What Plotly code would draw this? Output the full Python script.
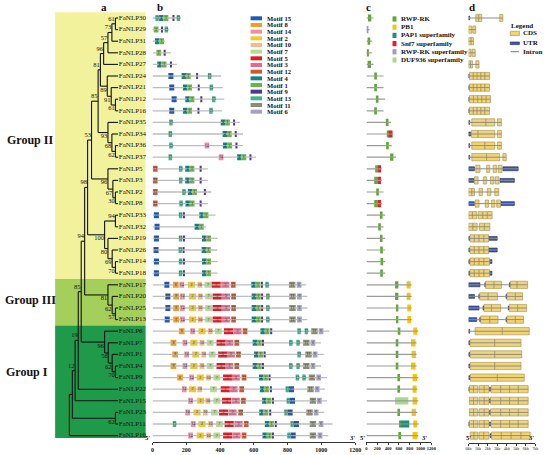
import plotly.graph_objects as go

W, H = 550, 455
ROW0, PITCH = 18, 11.6      # pixel y of first row, row pitch
TIP_X = 117                 # tree tips (pixel units of the tree axis)
SERIF = "Liberation Serif"

# ---------------- data ----------------
genes = ["FaNLP30", "FaNLP29", "FaNLP31", "FaNLP28", "FaNLP27", "FaNLP24", "FaNLP21",
         "FaNLP12", "FaNLP16", "FaNLP35", "FaNLP34", "FaNLP36", "FaNLP37", "FaNLP5",
         "FaNLP3", "FaNLP2", "FaNLP8", "FaNLP33", "FaNLP32", "FaNLP19", "FaNLP26",
         "FaNLP14", "FaNLP18", "FaNLP17", "FaNLP20", "FaNLP25", "FaNLP13", "FaNLP6",
         "FaNLP7", "FaNLP1", "FaNLP4", "FaNLP9", "FaNLP22", "FaNLP15", "FaNLP23",
         "FaNLP11", "FaNLP10"]

group_names = ["Group II", "Group III", "Group I"]
group_first = ["FaNLP30", "FaNLP17", "FaNLP6"]
group_last = ["FaNLP18", "FaNLP13", "FaNLP10"]
group_colors = ["#F2F29C", "#A5CF5B", "#1F9A4B"]

# internal nodes: (id, upper child, lower child, depth, bootstrap)
tree_nodes = [
    ("a1", "FaNLP30", "FaNLP29", 114.3, 61), ("a2", "a1", "FaNLP31", 110.7, 73),
    ("a3", "a2", "FaNLP28", 106.7, 57), ("a4", "a3", "FaNLP27", 102.3, 96),
    ("b1", "FaNLP12", "FaNLP16", 114.3, 61), ("b2", "FaNLP21", "b1", 110.0, 91),
    ("b3", "FaNLP24", "b2", 106.0, 89), ("c1", "a4", "b3", 99.0, 81),
    ("d1", "FaNLP36", "FaNLP37", 114.3, 62), ("d2", "FaNLP34", "d1", 110.7, 68),
    ("d3", "FaNLP35", "d2", 106.7, 93), ("c2", "c1", "d3", 96.7, 85),
    ("e1", "FaNLP2", "FaNLP8", 114.3, 30), ("e2", "FaNLP3", "e1", 111.7, 67),
    ("e3", "FaNLP5", "e2", 106.7, 96), ("c3", "c2", "e3", 90.0, 53),
    ("f1", "FaNLP33", "FaNLP32", 114.3, 94), ("f2", "FaNLP14", "FaNLP18", 114.3, 70),
    ("f3", "FaNLP26", "f2", 111.0, 69), ("f4", "FaNLP19", "f3", 106.7, 80),
    ("f5", "f1", "f4", 103.3, 100), ("c4", "c3", "f5", 86.0, 98),
    ("g1", "FaNLP25", "FaNLP13", 114.3, 57), ("g2", "FaNLP20", "g1", 111.0, 62),
    ("g3", "FaNLP17", "g2", 106.7, 81), ("c5", "c4", "g3", 83.0, 94),
    ("h1", "FaNLP4", "FaNLP9", 114.3, 70), ("h2", "FaNLP1", "h1", 111.0, 62),
    ("h3", "FaNLP7", "h2", 107.0, 56), ("h4", "FaNLP6", "h3", 103.3, 96),
    ("c6", "c5", "h4", 79.5, 85), ("c7", "c6", "FaNLP22", 76.5, 19),
    ("c8", "c7", "FaNLP15", 73.3, 12), ("i1", "FaNLP23", "FaNLP11", 114.3, 62),
    ("c9", "c8", "i1", 70.5, None), ("root", "c9", "FaNLP10", 67.5, None),
]

# b: protein length (aa) and motif hits (motif, centre aa)
protein_len = [167, 95, 75, 109, 144, 406, 416, 425, 412, 518, 536, 536, 613, 328,
               328, 348, 328, 373, 318, 386, 383, 386, 386, 910, 917, 917, 917, 1047,
               998, 1014, 998, 1033, 1021, 1033, 1017, 1066, 1041]

motif_ids = [15, 8, 14, 2, 10, 7, 5, 3, 12, 4, 1, 9, 13, 11, 6]
motif_colors = ["#1E5BB8", "#F39C1E", "#EF8FA6", "#F3C81F", "#F6B98E", "#B6DD8F",
                "#E31A22", "#E3688A", "#CF5A2E", "#13838A", "#6BB43F", "#4A3A8C",
                "#3DB68C", "#8C8C72", "#A3A2C4"]
motif_width = [30, 34, 28, 42, 28, 40, 54, 48, 28, 26, 28, 12, 20, 38, 28]

motifs_group2 = [
    [(13, 27), (4, 52), (1, 80), (9, 124), (13, 153)],
    [(1, 21), (9, 56), (13, 82)],
    [(4, 27), (1, 54)],
    [(1, 37), (9, 72)],
    [(4, 41), (1, 69), (9, 109)],
    [(15, 109), (4, 185), (1, 212), (9, 264), (13, 338)],
    [(15, 114), (4, 193), (1, 220), (9, 274), (13, 348)],
    [(15, 128), (4, 207), (1, 234), (9, 289), (13, 363)],
    [(15, 114), (4, 193), (1, 220), (9, 272), (13, 346)],
    [(13, 109), (4, 417), (1, 444), (9, 483)],
    [(13, 105), (4, 428), (1, 455), (9, 493)],
    [(13, 109), (14, 322), (4, 430), (1, 457), (9, 497)],
    [(13, 105), (14, 406), (4, 514), (1, 541), (9, 580)],
    [(12, 16), (13, 167), (4, 207), (1, 234), (9, 285)],
    [(12, 16), (13, 167), (4, 207), (1, 234), (9, 285)],
    [(12, 16), (13, 186), (4, 222), (1, 249), (9, 310)],
    [(12, 16), (13, 169), (4, 208), (1, 235), (9, 285)],
    [(15, 23), (13, 166), (9, 186), (4, 290), (1, 317)],
    [(15, 27), (4, 262), (1, 289)],
    [(15, 23), (13, 166), (9, 186), (4, 306), (1, 333)],
    [(15, 21), (13, 164), (9, 184), (4, 304), (1, 331)],
    [(15, 23), (13, 166), (9, 186), (4, 306), (1, 333)],
    [(15, 23), (13, 166), (9, 186), (4, 306), (1, 333)],
]
motifs_group3 = [
    [(15, 85), (8, 138), (14, 173), (2, 231), (10, 280), (7, 328), (5, 377), (3, 431),
     (12, 478), (4, 598), (1, 625), (9, 648), (13, 678), (11, 827), (6, 868)],
    [(15, 91), (8, 140), (14, 177), (2, 237), (10, 283), (7, 332), (5, 383), (3, 435),
     (12, 480), (4, 600), (1, 627), (9, 649), (13, 683), (11, 829), (6, 870)],
    [(15, 91), (8, 140), (14, 177), (2, 237), (10, 283), (7, 332), (5, 383), (3, 435),
     (12, 480), (4, 600), (1, 627), (9, 649), (13, 683), (11, 829), (6, 870)],
    [(15, 87), (8, 140), (14, 177), (2, 237), (10, 283), (7, 332), (5, 383), (3, 435),
     (12, 480), (4, 600), (1, 627), (9, 649), (13, 683), (11, 829), (6, 870)],
]
motifs_group1 = [
    [(8, 173), (14, 237), (2, 293), (10, 342), (7, 390), (5, 450), (3, 503), (12, 548),
     (4, 652), (1, 679), (9, 703), (13, 868), (13, 911), (11, 959), (6, 998)],
    [(8, 124), (14, 192), (2, 245), (10, 293), (7, 342), (5, 406), (3, 454), (12, 499),
     (4, 606), (1, 633), (9, 654), (13, 819), (13, 862), (11, 911), (6, 950)],
    [(8, 134), (14, 202), (2, 256), (10, 303), (7, 353), (5, 416), (3, 464), (12, 509),
     (4, 614), (1, 641), (9, 664), (13, 868), (11, 924), (6, 963)],
    [(8, 124), (14, 192), (2, 245), (10, 293), (7, 342), (5, 406), (3, 454), (12, 499),
     (4, 606), (1, 633), (9, 654), (13, 819), (13, 862), (11, 911), (6, 950)],
    [(8, 163), (14, 231), (2, 283), (10, 332), (7, 381), (5, 445), (3, 493), (12, 542),
     (4, 643), (1, 670), (9, 693), (13, 858), (13, 897), (11, 944), (6, 984)],
    [(14, 188), (2, 237), (10, 280), (7, 361), (5, 431), (3, 480), (12, 528), (4, 649),
     (1, 676), (9, 701), (13, 798), (15, 823), (11, 936), (6, 975)],
    [(14, 225), (2, 285), (10, 328), (7, 381), (5, 439), (3, 493), (12, 538), (4, 662),
     (1, 689), (9, 713), (13, 804), (15, 829), (11, 950), (6, 988)],
    [(14, 208), (2, 264), (10, 313), (7, 367), (5, 421), (3, 474), (12, 522), (4, 645),
     (1, 672), (9, 697), (13, 790), (15, 815), (11, 930), (6, 969)],
    [(13, 130), (14, 241), (2, 293), (10, 344), (7, 396), (5, 454), (3, 509), (12, 555),
     (4, 678), (1, 705), (9, 730), (13, 827), (15, 852), (11, 950), (6, 998)],
    [(14, 225), (2, 283), (10, 332), (7, 381), (5, 445), (3, 497), (12, 542), (4, 664),
     (1, 691), (9, 713), (13, 808), (15, 833), (11, 950), (6, 992)],
]

# c: conserved domains (name, start aa, end aa)
domain_names = ["RWP-RK", "PB1", "PAP1 superfamily", "Snf7 superfamily",
                "RWP-RK superfamily", "DUF936 superfamily"]
domain_colors = ["#5BAA2F", "#F7C600", "#1A8F7A", "#E61E25", "#9C9CC9", "#A9D98C"]
domain_len = [131, 58, 101, 101, 131, 315, 315, 346, 315, 456, 480, 468, 547, 284,
              284, 315, 284, 346, 315, 346, 346, 346, 346, 835, 835, 835, 835, 957,
              927, 927, 927, 957, 939, 957, 939, 969, 957]
domain_hits = [
    [("RWP-RK", 28, 89)], [("RWP-RK superfamily", 2, 26)], [("RWP-RK", 21, 70)],
    [("RWP-RK", 5, 45)], [("RWP-RK", 21, 83)], [("RWP-RK", 144, 193)],
    [("RWP-RK", 144, 193)], [("RWP-RK", 174, 223)], [("RWP-RK", 144, 193)],
    [("RWP-RK", 358, 407)], [("RWP-RK", 376, 425), ("Snf7 superfamily", 410, 482)],
    [("RWP-RK", 364, 413)], [("RWP-RK", 437, 498)],
    [("RWP-RK", 162, 211), ("Snf7 superfamily", 211, 270)],
    [("RWP-RK", 144, 205), ("Snf7 superfamily", 205, 268)], [("RWP-RK", 180, 229)],
    [("RWP-RK", 144, 205), ("Snf7 superfamily", 205, 268)], [("RWP-RK", 248, 297)],
    [("RWP-RK", 217, 266)], [("RWP-RK", 248, 297)], [("RWP-RK", 254, 303)],
    [("RWP-RK", 260, 309)], [("RWP-RK", 254, 303)],
    [("RWP-RK", 529, 590), ("PB1", 743, 817)], [("RWP-RK", 529, 590), ("PB1", 743, 817)],
    [("RWP-RK", 547, 590), ("PB1", 755, 823)], [("RWP-RK", 547, 590), ("PB1", 755, 823)],
    [("RWP-RK", 578, 627), ("PB1", 865, 939)], [("RWP-RK", 541, 590), ("PB1", 823, 908)],
    [("RWP-RK", 541, 590), ("PB1", 835, 914)], [("RWP-RK", 541, 590), ("PB1", 823, 908)],
    [("RWP-RK", 572, 621), ("PB1", 853, 933)], [("RWP-RK", 572, 621), ("PB1", 853, 927)],
    [("DUF936 superfamily", 529, 774), ("PB1", 853, 939)],
    [("RWP-RK", 572, 621), ("PB1", 835, 914)],
    [("RWP-RK", 602, 640), ("PAP1 superfamily", 633, 792), ("PB1", 865, 939)],
    [("RWP-RK", 590, 639), ("PB1", 853, 945)],
]

# d: gene structure, (kind, start kb, end kb); C = CDS, U = UTR
gene_parts = [
    [("U", 0, 0.1), ("C", 0.76, 1.07), ("C", 1.07, 1.38), ("C", 3.27, 3.6)],
    [("C", 0, 0.33), ("C", 0.45, 0.76)],
    [("C", 0, 0.27), ("C", 0.27, 0.52)],
    [("C", 0, 0.27), ("C", 0.38, 0.7)],
    [("C", 0, 0.2), ("C", 0.2, 0.41), ("C", 0.76, 1.1)],
    [("U", 0, 0.08), ("C", 0.1, 0.5), ("C", 0.5, 0.9), ("C", 0.9, 1.3), ("C", 1.3, 1.72), ("C", 1.72, 2.2)],
    [("U", 0, 0.08), ("C", 0.1, 0.5), ("C", 0.5, 0.9), ("C", 0.9, 1.3), ("C", 1.3, 1.72), ("C", 1.72, 2.2)],
    [("U", 0, 0.08), ("C", 0.1, 0.52), ("C", 0.52, 0.95), ("C", 0.95, 1.4), ("C", 1.4, 1.85), ("C", 1.85, 2.3)],
    [("U", 0, 0.08), ("C", 0.1, 0.5), ("C", 0.5, 0.9), ("C", 0.9, 1.3), ("C", 1.3, 1.72), ("C", 1.72, 2.2)],
    [("U", 0, 0.12), ("C", 0.34, 1.82), ("C", 1.82, 2.75), ("C", 3.03, 3.44)],
    [("U", 0, 0.22), ("C", 0.3, 1.0), ("C", 1.0, 2.75), ("C", 3.03, 3.44)],
    [("U", 0, 0.12), ("C", 0.34, 1.72), ("C", 1.72, 2.75), ("C", 3.03, 3.44)],
    [("U", 0, 0.12), ("C", 0.34, 1.89), ("C", 1.89, 3.26), ("C", 3.6, 3.95)],
    [("U", 0, 0.62), ("C", 0.76, 1.2), ("C", 1.9, 2.23), ("C", 2.58, 2.92), ("C", 3.1, 3.5), ("U", 3.6, 5.2)],
    [("U", 0, 0.55), ("C", 0.62, 1.0), ("C", 1.55, 1.9), ("C", 2.3, 2.65), ("C", 2.8, 3.2), ("U", 3.3, 4.8)],
    [("C", 0, 0.35), ("C", 0.35, 0.62), ("C", 1.1, 1.45), ("C", 1.96, 2.34), ("C", 2.75, 3.17)],
    [("U", 0, 0.6), ("C", 0.7, 1.1), ("C", 1.75, 2.1), ("C", 2.4, 2.75), ("C", 2.95, 3.35), ("U", 3.4, 4.8)],
    [("C", 0, 0.4), ("C", 0.42, 0.85), ("C", 1.0, 1.45), ("C", 1.5, 1.95), ("C", 2.0, 2.47)],
    [("C", 0, 0.45), ("C", 0.48, 0.9), ("C", 1.15, 1.65), ("C", 1.68, 2.23)],
    [("U", 0, 0.12), ("C", 0.15, 0.6), ("C", 0.62, 1.1), ("C", 1.12, 1.6), ("C", 1.62, 2.1), ("U", 2.1, 3.0)],
    [("U", 0, 0.12), ("C", 0.15, 0.6), ("C", 0.62, 1.1), ("C", 1.12, 1.6), ("C", 1.62, 2.1), ("U", 2.1, 3.0)],
    [("U", 0, 0.12), ("C", 0.15, 0.6), ("C", 0.62, 1.1), ("C", 1.12, 1.6), ("C", 1.62, 2.2), ("U", 2.2, 2.45)],
    [("U", 0, 0.12), ("C", 0.15, 0.6), ("C", 0.62, 1.1), ("C", 1.12, 1.6), ("C", 1.62, 2.2), ("U", 2.2, 2.45)],
    [("U", 0, 1.2), ("U", 1.7, 1.79), ("C", 1.79, 2.68), ("C", 2.68, 3.44), ("U", 4.28, 4.38), ("C", 4.38, 5.09), ("C", 5.09, 6.19)],
    [("U", 0, 0.62), ("U", 1.07, 1.17), ("C", 1.17, 2.06), ("C", 2.06, 3.02), ("U", 3.92, 4.02), ("C", 4.02, 4.91), ("C", 4.91, 5.67)],
    [("U", 0, 1.1), ("U", 1.52, 1.62), ("C", 1.62, 2.4), ("C", 2.4, 3.37), ("U", 4.16, 4.26), ("C", 4.26, 5.15), ("C", 5.15, 6.08)],
    [("U", 0, 0.86), ("U", 1.17, 1.27), ("C", 1.27, 2.23), ("C", 2.23, 3.09), ("U", 3.92, 4.02), ("C", 4.02, 4.91), ("C", 4.91, 5.77)],
    [("U", 0, 0.12), ("C", 0.69, 3.54), ("C", 3.54, 6.36)],
    [("U", 0, 0.14), ("C", 0.17, 2.75), ("C", 2.75, 5.5)],
    [("U", 0, 0.14), ("C", 0.17, 2.75), ("C", 2.75, 5.57)],
    [("U", 0, 0.14), ("C", 0.17, 2.75), ("C", 2.75, 5.5)],
    [("U", 0, 0.14), ("C", 0.2, 3.02), ("C", 3.02, 5.84)],
    [("U", 0, 0.1), ("C", 0.1, 0.52), ("C", 0.52, 0.96), ("C", 1.1, 1.65), ("C", 1.65, 2.13), ("U", 2.2, 2.3),
     ("C", 2.35, 3.37), ("C", 3.37, 4.3), ("C", 4.3, 5.22), ("C", 5.22, 6.25)],
    [("C", 0.07, 0.52), ("C", 0.52, 0.96), ("C", 1.1, 1.65), ("C", 1.65, 2.13), ("U", 2.2, 2.3),
     ("C", 2.3, 3.37), ("C", 3.37, 4.3), ("C", 4.3, 5.22), ("C", 5.22, 6.25)],
    [("C", 0.07, 0.52), ("C", 0.52, 0.96), ("C", 1.1, 1.65), ("C", 1.65, 2.13), ("U", 2.2, 2.3),
     ("C", 2.3, 3.37), ("C", 3.37, 4.3), ("C", 4.3, 5.22), ("C", 5.22, 6.25)],
    [("U", 0, 0.1), ("C", 0.1, 0.52), ("C", 0.52, 0.96), ("C", 1.1, 1.65), ("C", 1.65, 2.13), ("U", 2.2, 2.3),
     ("C", 2.35, 3.37), ("C", 3.37, 4.3), ("C", 4.3, 5.22), ("C", 5.22, 6.25)],
    [("C", 0.17, 0.58), ("C", 0.58, 0.96), ("C", 1.1, 1.6), ("C", 1.6, 2.13), ("U", 2.27, 2.37),
     ("C", 2.4, 3.44), ("C", 3.44, 4.47), ("C", 4.47, 5.5), ("C", 5.5, 6.46)],
]

aa_ticks = [0, 200, 400, 600, 800, 1000, 1200]
kb_ticks = [0, 1, 2, 3, 4, 5, 6, 7]
kb_labels = ["0kb", "1kb", "2kb", "3kb", "4kb", "5kb", "6kb", "7kb"]


# ---------------- helpers ----------------
def px(x):
    return x / W


def py(y):
    return 1 - y / H


row = {g: i for i, g in enumerate(genes)}
motif_hits = motifs_group2 + motifs_group3 + motifs_group1

fig = go.Figure()

# ---- a: tree ----
node_y = dict(row)
node_x = {g: TIP_X for g in genes}
parent = {}
for nid, up, low, depth, bs in tree_nodes:
    node_y[nid] = (node_y[up] + node_y[low]) / 2
    node_x[nid] = depth
    parent[up] = (nid, "upper")
    parent[low] = (nid, "lower")

tx, ty = [], []
for nid, up, low, depth, bs in tree_nodes:
    tx += [depth, depth, None]
    ty += [node_y[up], node_y[low], None]
    for ch in (up, low):
        tx += [depth, node_x[ch], None]
        ty += [node_y[ch], node_y[ch], None]
fig.add_trace(go.Scatter(x=tx, y=ty, mode="lines", xaxis="x", yaxis="y",
                         line=dict(color="#111", width=1.1), hoverinfo="skip"))

bx, by, bt = [], [], []
for nid, up, low, depth, bs in tree_nodes:
    if bs is None:
        continue
    side = parent.get(nid, (None, "upper"))[1]
    bx.append(depth - 0.6)
    by.append(node_y[nid] + (-0.4 if side == "upper" else 0.33))
    bt.append(str(bs))
fig.add_trace(go.Scatter(x=bx, y=by, text=bt, mode="text", textposition="middle left",
                         xaxis="x", yaxis="y", hoverinfo="skip",
                         textfont=dict(family=SERIF, size=6.5, color="#111")))

fig.add_trace(go.Scatter(x=[TIP_X + 0.8] * len(genes), y=list(range(len(genes))),
                         text=genes, mode="text", textposition="middle right",
                         xaxis="x", yaxis="y", hoverinfo="skip",
                         textfont=dict(family=SERIF, size=7, color="#111")))

# ---- b: motifs ----
lx, ly = [], []
for i, L in enumerate(protein_len):
    lx += [0, L, None]
    ly += [i, i, None]
fig.add_trace(go.Scatter(x=lx, y=ly, mode="lines", xaxis="x2", yaxis="y",
                         line=dict(color="#BDBDBD", width=1.3), hoverinfo="skip"))

num_x, num_y, num_t = [], [], []
for m, col, w in zip(motif_ids, motif_colors, motif_width):
    ys, bases = [], []
    for i, hits in enumerate(motif_hits):
        for mm, c in hits:
            if mm == m:
                ys.append(i)
                bases.append(c - w / 2)
                if m != 9:      # motif 9 boxes are too thin to carry a number
                    num_x.append(c)
                    num_y.append(i)
                    num_t.append(str(m))
    fig.add_trace(go.Bar(orientation="h", y=ys, x=[w] * len(ys), base=bases, width=0.52,
                         marker=dict(color=col, line=dict(width=0)),
                         xaxis="x2", yaxis="y", hoverinfo="skip"))

fig.add_trace(go.Scatter(x=num_x, y=num_y, text=num_t, mode="text",
                         textposition="middle center", xaxis="x2", yaxis="y",
                         hoverinfo="skip",
                         textfont=dict(family=SERIF, size=4, color="#2A2A2A")))

# ---- c: domains ----
lx, ly = [], []
for i, L in enumerate(domain_len):
    lx += [0, L, None]
    ly += [i, i, None]
fig.add_trace(go.Scatter(x=lx, y=ly, mode="lines", xaxis="x3", yaxis="y",
                         line=dict(color="#9A9A9A", width=1.2), hoverinfo="skip"))

for dname, col in zip(domain_names, domain_colors):
    ys, bases, lens = [], [], []
    for i, hits in enumerate(domain_hits):
        for dn, s, e in hits:
            if dn == dname:
                ys.append(i)
                bases.append(s)
                lens.append(e - s)
    if ys:
        fig.add_trace(go.Bar(orientation="h", y=ys, x=lens, base=bases, width=0.62,
                             marker=dict(color=col, line=dict(width=0)),
                             xaxis="x3", yaxis="y", hoverinfo="skip"))

# ---- d: gene structure ----
lx, ly = [], []
for i, parts in enumerate(gene_parts):
    lx += [min(p[1] for p in parts), max(p[2] for p in parts), None]
    ly += [i, i, None]
fig.add_trace(go.Scatter(x=lx, y=ly, mode="lines", xaxis="x4", yaxis="y",
                         line=dict(color="#8C8C8C", width=1), hoverinfo="skip"))

for kind, fill, edge, width in [("U", "#3D57B3", "#1B2A6E", 0.34),
                                ("C", "#F2D472", "#9C8A4E", 0.62)]:
    ys, bases, lens = [], [], []
    for i, parts in enumerate(gene_parts):
        for k, s, e in parts:
            if k == kind:
                ys.append(i)
                bases.append(s)
                lens.append(e - s)
    fig.add_trace(go.Bar(orientation="h", y=ys, x=lens, base=bases, width=width,
                         marker=dict(color=fill, line=dict(color=edge, width=0.6)),
                         xaxis="x4", yaxis="y", hoverinfo="skip"))

# ---------------- decorations ----------------
shapes = []
annotations = []

for name, g0, g1, col in zip(group_names, group_first, group_last, group_colors):
    shapes.append(dict(type="rect", xref="x", yref="y", x0=53, x1=145,
                       y0=row[g0] - 0.5, y1=row[g1] + (0.5 if g1 != genes[-1] else 0.2),
                       fillcolor=col, line=dict(width=0), layer="below"))

group_label_y = [140, 300, 372]
group_label_x = [27, 28, 24]
for name, gx, gy in zip(group_names, group_label_x, group_label_y):
    annotations.append(dict(x=px(gx), y=py(gy), xref="paper", yref="paper", text=name,
                            showarrow=False, xanchor="center", yanchor="middle",
                            font=dict(family=SERIF, size=12, color="#111", weight="bold")))

for letter, lxp in zip("abcd", [103, 160, 372, 477]):
    annotations.append(dict(x=px(lxp), y=py(7), xref="paper", yref="paper", text=letter,
                            showarrow=False, xanchor="center", yanchor="middle",
                            font=dict(family=SERIF, size=11, color="#111", weight="bold")))

# motif legend
for k, (m, col) in enumerate(zip(motif_ids, motif_colors)):
    yy = 18.3 + 6.67 * k
    shapes.append(dict(type="rect", xref="paper", yref="paper", x0=px(251.7), x1=px(263.3),
                       y0=py(yy + 2), y1=py(yy - 2), fillcolor=col, line=dict(width=0)))
    annotations.append(dict(x=px(266.5), y=py(yy), xref="paper", yref="paper",
                            text=f"Motif {m}", showarrow=False, xanchor="left", yanchor="middle",
                            font=dict(family=SERIF, size=6.6, color="#111", weight="bold")))

# domain legend
for k, (dname, col) in enumerate(zip(domain_names, domain_colors)):
    yy = 19 + 8.2 * k
    shapes.append(dict(type="rect", xref="paper", yref="paper", x0=px(396), x1=px(400),
                       y0=py(yy + 2.6), y1=py(yy - 2.6), fillcolor=col, line=dict(width=0)))
    annotations.append(dict(x=px(402.5), y=py(yy), xref="paper", yref="paper",
                            text=dname, showarrow=False, xanchor="left", yanchor="middle",
                            font=dict(family=SERIF, size=7, color="#111", weight="bold")))

# gene structure legend
annotations.append(dict(x=px(528), y=py(25.5), xref="paper", yref="paper", text="Legend",
                        showarrow=False, xanchor="center", yanchor="middle",
                        font=dict(family=SERIF, size=7, color="#111", weight="bold")))
shapes.append(dict(type="rect", xref="paper", yref="paper", x0=px(515.7), x1=px(525),
                   y0=py(35.5), y1=py(31.3), fillcolor="#F2D472",
                   line=dict(color="#9C8A4E", width=0.6)))
shapes.append(dict(type="rect", xref="paper", yref="paper", x0=px(515.7), x1=px(525),
                   y0=py(44.6), y1=py(42.0), fillcolor="#3D57B3",
                   line=dict(color="#1B2A6E", width=0.6)))
shapes.append(dict(type="line", xref="paper", yref="paper", x0=px(516), x1=px(524.5),
                   y0=py(51.7), y1=py(51.7), line=dict(color="#777", width=1)))
for txt, yy in [("CDS", 33.3), ("UTR", 43.3), ("Intron", 51.7)]:
    annotations.append(dict(x=px(527), y=py(yy), xref="paper", yref="paper", text=txt,
                            showarrow=False, xanchor="left", yanchor="middle",
                            font=dict(family=SERIF, size=7, color="#111", weight="bold")))

# 5' / 3' marks
for x5, x3 in [(147, 355), (365, 429), (473.5, 537.5)]:
    for xx, t in [(x5, "5'"), (x3, "3'")]:
        annotations.append(dict(x=px(xx), y=py(437), xref="paper", yref="paper", text=t,
                                showarrow=False, xanchor="center", yanchor="middle",
                                font=dict(family=SERIF, size=6.5, color="#111", weight="bold")))

axis_style = dict(showline=True, linecolor="#333", linewidth=0.8, ticks="outside",
                  ticklen=2, tickwidth=0.8, tickcolor="#333", showgrid=False,
                  zeroline=False, anchor="free", fixedrange=True, tickangle=0)

fig.update_layout(
    width=W, height=H,
    margin=dict(l=0, r=0, t=0, b=0),
    paper_bgcolor="white",
    plot_bgcolor="rgba(0,0,0,0)",
    showlegend=False,
    barmode="overlay",
    shapes=shapes,
    annotations=annotations,
    xaxis=dict(domain=[0, 1], range=[0, W], visible=False, fixedrange=True),
    yaxis=dict(domain=[0, 1], range=[(H - ROW0) / PITCH, -ROW0 / PITCH],
               visible=False, fixedrange=True),
    xaxis2=dict(domain=[px(152), px(358)], range=[0, 1200], position=1 - 442 / H,
                tickvals=aa_ticks,
                tickfont=dict(family=SERIF, size=6, color="#111", weight="bold"),
                **axis_style),
    xaxis3=dict(domain=[px(369.5), px(435.5)], range=[0, 1200], position=1 - 441.7 / H,
                tickvals=aa_ticks,
                tickfont=dict(family=SERIF, size=4.6, color="#111", weight="bold"),
                **axis_style),
    xaxis4=dict(domain=[px(473.3), px(541.2)], range=[0, 7], position=1 - 442.7 / H,
                tickvals=kb_ticks, ticktext=kb_labels,
                tickfont=dict(family=SERIF, size=4, color="#111"),
                **axis_style),
)

# the page's default body margin would shift the 550x455 figure inside the window
fig.write_html("out.html", config={"displayModeBar": False},
               post_script="document.body.style.margin='0';"
                           "document.body.style.overflow='hidden';")
